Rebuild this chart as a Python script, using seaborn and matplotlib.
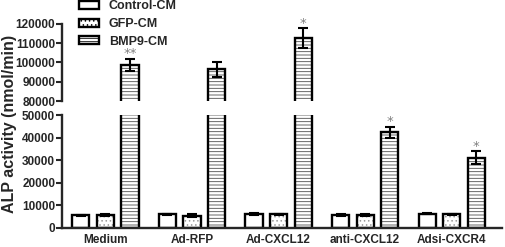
import pandas as pd
import matplotlib.pyplot as plt
import matplotlib.patches as mpatches
import seaborn as sns

# ---- data ----
groups = ['Medium', 'Ad-RFP', 'Ad-CXCL12', 'anti-CXCL12', 'Adsi-CXCR4']
conditions = ['Control-CM', 'GFP-CM', 'BMP9-CM']
control_cm = [5600, 6000, 6200, 5800, 6300]
gfp_cm = [5800, 5500, 6000, 5900, 6000]
bmp9_cm = [98800, 96400, 112700, 42300, 31100]
control_err = [300, 400, 300, 400, 300]
gfp_err = [400, 500, 300, 400, 400]
bmp9_err = [3200, 3700, 5000, 2500, 2900]
bmp9_stars = ['**', '', '*', '*', '*']

top_ticks = [80000, 90000, 100000, 110000, 120000]
bottom_ticks = [0, 10000, 20000, 30000, 40000, 50000]

hatches = ['', '....', '-----']
hatch_colors = ['0.4', '0.6', '0.3']

# ---- style ----
sns.set_style('ticks')
plt.rcParams['font.family'] = ['Liberation Sans', 'DejaVu Sans']
plt.rcParams['font.weight'] = 'bold'
plt.rcParams['axes.labelweight'] = 'bold'
plt.rcParams['hatch.linewidth'] = 0.6

rows = []
for i, g in enumerate(groups):
    for cond, vals in zip(conditions, [control_cm, gfp_cm, bmp9_cm]):
        rows.append({'group': g, 'cond': cond, 'value': vals[i]})
df = pd.DataFrame(rows)
errs = [control_err, gfp_err, bmp9_err]
means = [control_cm, gfp_cm, bmp9_cm]

fig = plt.figure(figsize=(5.05, 2.47), dpi=100)
ax_top = fig.add_axes([0.123, 0.591, 0.871, 0.312])
ax_bot = fig.add_axes([0.123, 0.077, 0.871, 0.457])

for ax in (ax_top, ax_bot):
    sns.barplot(data=df, x='group', y='value', hue='cond', order=groups,
                hue_order=conditions, palette=['white'] * 3, width=0.85,
                gap=0.3, errorbar=None, linewidth=0, legend=False, ax=ax)
    bar_conts = list(ax.containers)
    for k, cont in enumerate(bar_conts):
        xs = []
        for p in cont.patches:
            p.set_hatch(hatches[k])
            p.set_edgecolor(hatch_colors[k])
            p.set_linewidth(0)
            # black outline over the hatched bar
            ax.add_patch(mpatches.Rectangle(p.get_xy(), p.get_width(), p.get_height(),
                                            fill=False, edgecolor='black', linewidth=1.7))
            xs.append(p.get_x() + p.get_width() / 2)
        ax.errorbar(xs, means[k], yerr=errs[k], fmt='none', ecolor='black',
                    elinewidth=1.5, capsize=3.5, capthick=1.5)
        if k == 2:
            for x, m, e, s in zip(xs, means[k], errs[k], bmp9_stars):
                if not s:
                    continue
                tgt = ax_top if m > 60000 else ax_bot
                if tgt is ax:
                    ax.annotate(s, (x, m + e), xytext=(0, 3.5), textcoords='offset points',
                                ha='center', va='center', color='0.5', fontsize=9.5,
                                family='DejaVu Sans', fontweight='normal')
    ax.set_xlim(-0.5, 4.58)
    ax.set_xlabel('')
    ax.set_ylabel('')
    ax.tick_params(axis='y', length=4, width=1.5, labelsize=8.5, pad=1)
    ax.tick_params(axis='x', length=0, labelsize=8.5, pad=4)
    for side in ['left', 'bottom']:
        ax.spines[side].set_linewidth(1.7)
    sns.despine(ax=ax)

ax_top.set_ylim(80000, 120000)
ax_top.set_yticks(top_ticks)
ax_top.spines['bottom'].set_visible(False)
ax_top.set_xticks([])

ax_bot.set_ylim(0, 50000)
ax_bot.set_yticks(bottom_ticks)

fig.text(0.018, 0.5, 'ALP activity (nmol/min)', rotation=90, ha='center',
         va='center', fontsize=11.5, fontweight='bold')

handles = [mpatches.Patch(facecolor='white', edgecolor='black', hatch='', linewidth=1.7),
           mpatches.Patch(facecolor='white', edgecolor='black', hatch='....', linewidth=1.7),
           mpatches.Patch(facecolor='white', edgecolor='black', hatch='-----', linewidth=1.7)]
fig.legend(handles, conditions, loc='upper left', bbox_to_anchor=(0.156, 0.998),
           frameon=False, fontsize=9, handlelength=1.6, handleheight=0.6,
           handletextpad=0.8, labelspacing=0.45, borderpad=0, borderaxespad=0)

fig.savefig('out.png', dpi=100)
